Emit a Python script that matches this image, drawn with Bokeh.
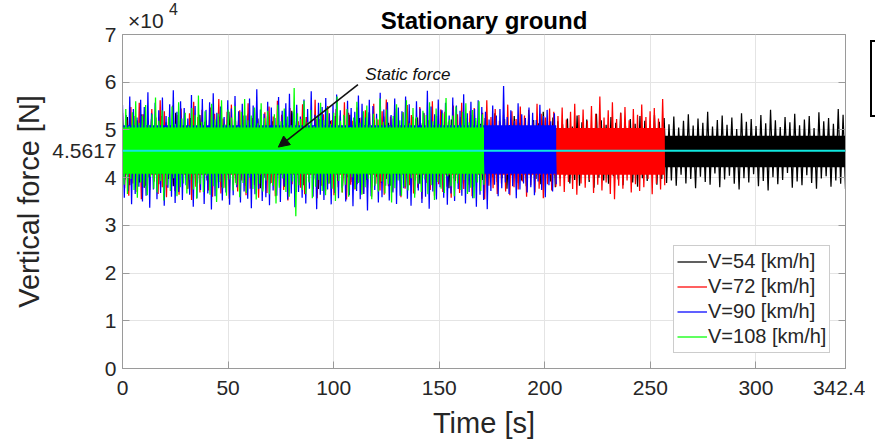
import numpy as np
from bokeh.plotting import figure
from bokeh.models import (Range1d, FixedTicker, CustomJSTickFormatter, Legend, LegendItem,
                          Label, Arrow, NormalHead, Span, Div, LinearAxis)
from bokeh.layouts import row
from bokeh.embed import file_html
from bokeh.resources import INLINE

# ---------------- data (vertical force in units of 1e4 N) ----------------
series_names = ["V=54 [km/h]", "V=72 [km/h]", "V=90 [km/h]", "V=108 [km/h]"]
series_colors = ["#000000", "#ff0000", "#0000ff", "#00ff00"]
durations = [342.4, 256.8, 205.4, 171.2]          # s
core_lo = [4.22, 4.06, 4.08, 4.08]               # dense band, lower edge
core_hi = [4.88, 5.04, 5.10, 5.05]               # dense band, upper edge
static_force = 4.5617
y_exponent = "4"                                 # axis multiplier 10^4

black_hi = [5.14, 5.27, 5.06, 5.20, 5.33, 5.10, 5.23, 5.03, 5.29, 5.16,
            5.08, 5.36, 5.19, 5.12, 5.25, 5.05, 5.31, 5.17, 5.22, 5.09,
            5.28, 5.13, 5.38, 5.07, 5.21, 5.15, 5.34, 5.11, 5.24, 5.04,
            5.30, 5.18, 5.09, 5.26, 5.14, 5.40, 5.20, 5.06, 5.27, 5.12,
            5.23, 5.35, 5.08, 5.19, 5.29, 5.13, 5.02, 5.32, 5.17, 5.25,
            5.10, 5.37, 5.21, 5.07, 5.28, 5.15, 5.24, 5.11, 5.33, 5.18,
            5.05, 5.26, 5.14, 5.30, 5.20, 5.09, 5.39, 5.16, 5.22, 5.12,
            5.27, 5.04, 5.31, 5.19, 5.13, 5.25, 5.08, 5.35, 5.17, 5.23,
            5.10, 5.29, 5.15, 5.06, 5.32, 5.21, 5.14, 5.38, 5.09, 5.26,
            5.18, 5.12, 5.24, 5.07, 5.30, 5.16, 5.22, 5.03, 5.34, 5.20,
            5.11, 5.27, 5.15, 5.36, 5.08, 5.23, 5.13, 5.29, 5.19, 5.05,
            5.31, 5.17, 5.25,
            5.12, 5.28, 5.05, 5.19, 5.33, 5.09, 5.24, 5.15, 5.38, 5.07,
            5.21, 5.30, 5.11, 5.26, 5.02, 5.35, 5.17, 5.23, 5.08, 5.31,
            5.14, 5.42, 5.20, 5.06, 5.27, 5.16, 5.34, 5.10, 5.22, 5.29,
            5.04, 5.37, 5.18, 5.25, 5.13, 5.44, 5.32]
black_lo = [3.96, 3.84, 4.05, 3.90, 3.79, 4.01, 3.93, 3.86, 4.09, 3.97,
            3.82, 4.03, 3.91, 3.77, 3.99, 3.88, 4.07, 3.94, 3.85, 4.02,
            3.80, 3.95, 4.10, 3.89, 3.98, 3.83, 4.04, 3.92, 3.78, 4.00,
            3.87, 4.06, 3.94, 3.81, 3.97, 4.11, 3.90, 3.84, 4.03, 3.96,
            3.76, 3.99, 3.88, 4.05, 3.93, 3.82, 4.01, 3.91, 3.86, 4.08,
            3.95, 3.79, 4.02, 3.89, 3.97, 3.83, 4.06, 3.92, 3.80, 4.00,
            3.94, 3.87, 4.09, 3.96, 3.84, 4.03, 3.90, 3.78, 3.98, 4.04,
            3.88, 3.93, 3.81, 4.07, 3.95, 3.85, 4.01, 3.91, 3.99, 3.77,
            4.05, 3.89, 3.94, 3.82, 4.02, 3.97, 3.86, 4.10, 3.92, 3.80,
            3.98, 4.04, 3.88, 3.95, 3.83, 4.06, 3.91, 3.79, 4.00, 3.94,
            3.87, 4.03, 3.96, 3.84, 4.08, 3.90, 3.81, 3.99, 3.93, 4.05,
            3.85, 3.97, 3.89,
            3.94, 3.83, 4.06, 3.88, 3.97, 3.78, 4.02, 3.91, 3.85, 4.09,
            3.80, 3.96, 4.04, 3.87, 3.75, 3.99, 3.90, 4.07, 3.82, 3.93,
            3.73, 4.01, 3.86, 3.95, 4.10, 3.79, 3.92, 3.84, 4.05, 3.89,
            3.77, 3.98, 4.03, 3.81, 3.94, 3.87, 3.76]

red_hi = [5.36, 5.21, 5.48, 5.29, 5.57, 5.33, 5.18, 5.44, 5.26, 5.62,
          5.39, 5.23, 5.51, 5.31, 5.45, 5.17, 5.35, 5.59, 5.27, 5.42,
          5.20, 5.47, 5.34, 5.65, 5.24, 5.38, 5.53, 5.19, 5.41, 5.30,
          5.56, 5.25, 5.43, 5.16, 5.37, 5.49, 5.28, 5.61, 5.32, 5.22,
          5.46, 5.35, 5.18, 5.54, 5.27, 5.40, 5.63, 5.23, 5.33, 5.50,
          5.21, 5.44, 5.30, 5.58, 5.36, 5.19, 5.47, 5.26, 5.41, 5.34,
          5.55, 5.22, 5.39, 5.64, 5.28, 5.45, 5.17, 5.37, 5.52, 5.31,
          5.24, 5.48, 5.35, 5.20, 5.60, 5.29, 5.43, 5.38, 5.18, 5.51,
          5.33, 5.57, 5.25, 5.40, 5.46, 5.21, 5.36, 5.62, 5.27, 5.44,
          5.19, 5.32, 5.53, 5.39, 5.23, 5.49, 5.30, 5.42, 5.16, 5.55,
          5.34, 5.26, 5.45, 5.38,
          5.29, 5.47, 5.22, 5.38, 5.55, 5.31, 5.43, 5.19, 5.50, 5.34,
          5.70, 5.26, 5.41, 5.58, 5.23, 5.36, 5.48, 5.20, 5.44, 5.32,
          5.53, 5.27, 5.39, 5.46, 5.24, 5.65]
red_lo = [3.78, 3.62, 3.88, 3.70, 3.55, 3.83, 3.74, 3.91, 3.66, 3.80,
          3.59, 3.86, 3.72, 3.64, 3.93, 3.76, 3.53, 3.81, 3.69, 3.87,
          3.73, 3.60, 3.90, 3.67, 3.79, 3.56, 3.84, 3.71, 3.94, 3.63,
          3.77, 3.85, 3.58, 3.75, 3.68, 3.89, 3.61, 3.82, 3.74, 3.52,
          3.86, 3.70, 3.79, 3.65, 3.92, 3.76, 3.57, 3.83, 3.72, 3.88,
          3.63, 3.80, 3.69, 3.54, 3.85, 3.75, 3.91, 3.66, 3.78, 3.60,
          3.87, 3.73, 3.64, 3.82, 3.71, 3.95, 3.59, 3.77, 3.84, 3.67,
          3.79, 3.56, 3.89, 3.74, 3.62, 3.86, 3.70, 3.81, 3.58, 3.93,
          3.68, 3.76, 3.85, 3.61, 3.90, 3.72, 3.55, 3.83, 3.78, 3.66,
          3.88, 3.71, 3.63, 3.80, 3.75, 3.92, 3.60, 3.84, 3.69, 3.77,
          3.57, 3.86, 3.73, 3.81,
          3.82, 3.70, 3.91, 3.76, 3.64, 3.88, 3.79, 3.95, 3.68, 3.85,
          3.73, 3.90, 3.66, 3.55, 3.83, 3.77, 3.94, 3.69, 3.86, 3.72,
          3.80, 3.97, 3.65, 3.87, 3.75, 3.84]

blue_hi = [5.52, 5.31, 5.70, 5.44, 5.26, 5.63, 5.48, 5.79, 5.35, 5.57,
           5.41, 5.68, 5.29, 5.54, 5.83, 5.38, 5.60, 5.46, 5.24, 5.73,
           5.50, 5.33, 5.65, 5.42, 5.58, 5.77, 5.36, 5.49, 5.27, 5.62,
           5.45, 5.71, 5.39, 5.55, 5.30, 5.66, 5.51, 5.85, 5.43, 5.34,
           5.59, 5.47, 5.25, 5.69, 5.40, 5.56, 5.76, 5.37, 5.53, 5.28,
           5.64, 5.44, 5.81, 5.32, 5.57, 5.48, 5.67, 5.35, 5.52, 5.74,
           5.41, 5.29, 5.61, 5.46, 5.38, 5.72, 5.55, 5.26, 5.63, 5.50,
           5.34, 5.78, 5.43, 5.58, 5.31, 5.66, 5.47, 5.39, 5.70, 5.54,
           5.27, 5.60, 5.45, 5.36, 5.82, 5.49, 5.33, 5.64, 5.42, 5.57,
           5.30, 5.68, 5.51, 5.40, 5.75, 5.35, 5.59, 5.44, 5.62, 5.48,
           5.38, 5.22, 5.51, 5.30, 5.44, 5.92, 5.27, 5.41, 5.19, 5.56,
           5.33, 5.25, 5.47, 5.36, 5.21, 5.53, 5.29, 5.42, 5.18, 5.35]
blue_lo = [3.58, 3.72, 3.44, 3.66, 3.81, 3.50, 3.62, 3.37, 3.75, 3.55,
           3.68, 3.41, 3.79, 3.60, 3.47, 3.70, 3.53, 3.84, 3.64, 3.39,
           3.57, 3.74, 3.45, 3.67, 3.33, 3.61, 3.78, 3.52, 3.69, 3.43,
           3.63, 3.80, 3.48, 3.71, 3.56, 3.36, 3.65, 3.76, 3.51, 3.59,
           3.42, 3.73, 3.62, 3.49, 3.82, 3.54, 3.67, 3.38, 3.70, 3.58,
           3.46, 3.77, 3.60, 3.34, 3.64, 3.53, 3.75, 3.44, 3.68, 3.57,
           3.79, 3.50, 3.63, 3.40, 3.72, 3.55, 3.66, 3.31, 3.61, 3.74,
           3.48, 3.59, 3.83, 3.52, 3.69, 3.45, 3.62, 3.78, 3.56, 3.41,
           3.65, 3.73, 3.47, 3.60, 3.35, 3.71, 3.54, 3.80, 3.58, 3.43,
           3.67, 3.51, 3.76, 3.62, 3.46, 3.70, 3.57, 3.39, 3.64, 3.53,
           3.34, 3.72, 3.85, 3.61, 3.78, 3.90, 3.66, 3.82, 3.57, 3.75,
           3.88, 3.69, 3.80, 3.63, 3.92, 3.74, 3.59, 3.84, 3.71, 3.86]

green_hi = [5.21, 5.44, 5.08, 5.37, 5.60, 5.15, 5.29, 5.52, 5.11, 5.33,
            5.68, 5.19, 5.41, 5.06, 5.27, 5.49, 5.13, 5.58, 5.24, 5.36,
            5.09, 5.46, 5.31, 5.72, 5.17, 5.39, 5.05, 5.55, 5.22, 5.34,
            5.62, 5.12, 5.43, 5.26, 5.50, 5.07, 5.38, 5.65, 5.20, 5.30,
            5.47, 5.14, 5.56, 5.25, 5.40, 5.03, 5.33, 5.53, 5.18, 5.45,
            5.28, 5.10, 5.88, 5.35, 5.23, 5.61, 5.16, 5.42, 5.08, 5.30,
            5.57, 5.21, 5.48, 5.13, 5.36, 5.70, 5.19, 5.32, 5.44, 5.06,
            5.26, 5.59, 5.15, 5.39, 5.51, 5.11, 5.34, 5.24, 5.66, 5.17,
            5.43, 5.09, 5.29, 5.54, 5.20, 5.37, 5.62, 5.14, 5.46, 5.27,
            5.05, 5.40, 5.31, 5.58, 5.18, 5.45, 5.12, 5.35, 5.67, 5.22,
            5.30, 5.49, 5.10, 5.38, 5.56, 5.16, 5.42, 5.25, 5.60, 5.33]
green_lo = [3.85, 3.66, 3.97, 3.74, 3.58, 3.90, 3.81, 3.63, 4.02, 3.77,
            3.69, 3.93, 3.52, 3.84, 3.72, 3.99, 3.61, 3.80, 3.88, 3.67,
            3.95, 3.75, 3.56, 3.86, 3.70, 4.04, 3.64, 3.82, 3.49, 3.91,
            3.78, 3.62, 3.96, 3.73, 3.85, 3.59, 3.89, 3.68, 4.00, 3.76,
            3.54, 3.87, 3.71, 3.94, 3.65, 3.83, 3.46, 3.79, 3.98, 3.70,
            3.60, 3.92, 3.19, 3.84, 3.74, 3.66, 3.90, 3.57, 3.81, 3.95,
            3.72, 3.63, 3.88, 3.77, 3.51, 3.93, 3.69, 3.85, 3.60, 4.01,
            3.76, 3.89, 3.64, 3.80, 3.97, 3.55, 3.83, 3.71, 3.92, 3.67,
            3.86, 3.48, 3.78, 3.94, 3.62, 3.81, 3.73, 3.99, 3.58, 3.87,
            3.70, 3.96, 3.65, 3.84, 3.53, 3.91, 3.77, 3.68, 4.03, 3.82,
            3.61, 3.88, 3.74, 3.95, 3.66, 3.79, 3.57, 3.90, 3.72, 3.85]

peaks_hi = [black_hi, red_hi, blue_hi, green_hi]
peaks_lo = [black_lo, red_lo, blue_lo, green_lo]

x_ticks = [0, 50, 100, 150, 200, 250, 300, 342.4]
y_ticks = [0, 1, 2, 3, 4, static_force, 5, 6, 7]

# ---------------- figure ----------------
FONT = "Liberation Sans"
TXT = "#262626"
AX = "#9a9a9a"

p = figure(width=865, height=442, output_backend="svg", toolbar_location=None,
           x_range=Range1d(0, 342.4), y_range=Range1d(0, 7),
           title="Stationary ground",
           min_border_left=122, min_border_right=20, min_border_top=34, min_border_bottom=74)
p.background_fill_color = "white"
p.border_fill_color = "white"
p.outline_line_color = AX
p.outline_line_width = 1

p.title.align = "center"
p.title.text_font = FONT
p.title.text_font_size = "24px"
p.title.text_font_style = "bold"
p.title.text_color = "#000000"
p.title.standoff = 2

renderers = []
for name, col, dur, clo, chi, hi, lo in zip(series_names, series_colors, durations,
                                             core_lo, core_hi, peaks_hi, peaks_lo):
    n = min(len(hi), len(lo))
    t = np.linspace(0, dur, 2 * n)
    y = np.empty(2 * n)
    y[0::2] = hi[:n]
    y[1::2] = lo[:n]
    p.varea(x=[0, dur], y1=[clo, clo], y2=[chi, chi], fill_color=col)
    r = p.line(t, y, line_color=col, line_width=1.25)
    renderers.append((name, r))

p.add_layout(Span(location=static_force, dimension="width", line_color="#10e8e0", line_width=2))

# axes
fmt_x = CustomJSTickFormatter(code="return Number.isInteger(tick) ? tick.toString() : tick.toFixed(1);")
fmt_y = CustomJSTickFormatter(code="return Number.isInteger(tick) ? tick.toString() : tick.toFixed(4);")
fmt_none = CustomJSTickFormatter(code="return '';")

for ax, ticks, fmt in ((p.xaxis[0], x_ticks, fmt_x), (p.yaxis[0], y_ticks, fmt_y)):
    ax.ticker = FixedTicker(ticks=ticks)
    ax.formatter = fmt
    ax.major_tick_in = 7
    ax.major_tick_out = 0
    ax.minor_tick_line_color = None
    ax.axis_line_color = AX
    ax.major_tick_line_color = AX
    ax.major_label_text_font = FONT
    ax.major_label_text_font_size = "21px"
    ax.major_label_text_color = TXT
    ax.axis_label_text_font = FONT
    ax.axis_label_text_font_size = "29px"
    ax.axis_label_text_font_style = "normal"
    ax.axis_label_text_color = TXT

p.xaxis.axis_label = "Time [s]"
p.yaxis.axis_label = "Vertical force [N]"
p.xaxis.major_label_standoff = 12
p.xaxis.axis_label_standoff = 9
p.yaxis.major_label_standoff = 6
p.yaxis.axis_label_standoff = 4

ax2 = LinearAxis(ticker=FixedTicker(ticks=y_ticks), formatter=fmt_none,
                 major_tick_in=7, major_tick_out=0, minor_tick_line_color=None,
                 axis_line_color=AX, major_tick_line_color=AX,
                 major_label_standoff=0, major_label_text_font_size="1px")
p.add_layout(ax2, "right")

p.xgrid.ticker = FixedTicker(ticks=x_ticks)
p.ygrid.ticker = FixedTicker(ticks=y_ticks)
p.grid.grid_line_color = "#e4e4e4"
p.grid.grid_line_width = 1

# static force annotation
p.add_layout(Arrow(x_start=111.5, y_start=5.95, x_end=73.8, y_end=4.64,
                   line_color="#111111", line_width=1.6,
                   end=NormalHead(size=11, fill_color="#111111", line_color="#111111")))
p.add_layout(Label(x=115, y=6.16, text="Static force", text_font=FONT, text_font_size="17px",
                   text_font_style="italic", text_color="#111111", text_baseline="middle"))

# legend
legend = Legend(items=[LegendItem(label=nm, renderers=[r]) for nm, r in renderers],
                location=(551, 15), label_text_font=FONT, label_text_font_size="20px",
                label_text_color=TXT, glyph_width=30, glyph_height=25, label_height=25,
                label_standoff=1, spacing=0, padding=3, margin=0,
                border_line_color="#9a9a9a", border_line_width=1,
                background_fill_color="white", background_fill_alpha=1)
p.add_layout(legend)

# the partly visible box on the right edge; it also carries the "x10^4" axis multiplier,
# which sits above the plot frame (outside the area where Bokeh labels are drawn)
SPAN_CSS = ("position:absolute; white-space:nowrap; font-family:'Liberation Sans',Arial,sans-serif; "
            "font-size:13px; line-height:15px; transform-origin:0 0; color:%s; " % TXT)
mult_html = (
    '<span style="%s left:-744px; top:-33px; transform:scale(1.615);">\u00d710</span>'
    '<span style="%s left:-703px; top:-42px; transform:scale(1.23);">%s</span>'
) % (SPAN_CSS, SPAN_CSS, y_exponent)
box = Div(text=mult_html, width=10, height=77,
          styles={"border": "2px solid black", "border-right": "none", "margin-top": "40px",
                  "position": "relative", "overflow": "visible"})

layout = row(p, box)
open("out.html", "w").write(file_html(layout, INLINE))
